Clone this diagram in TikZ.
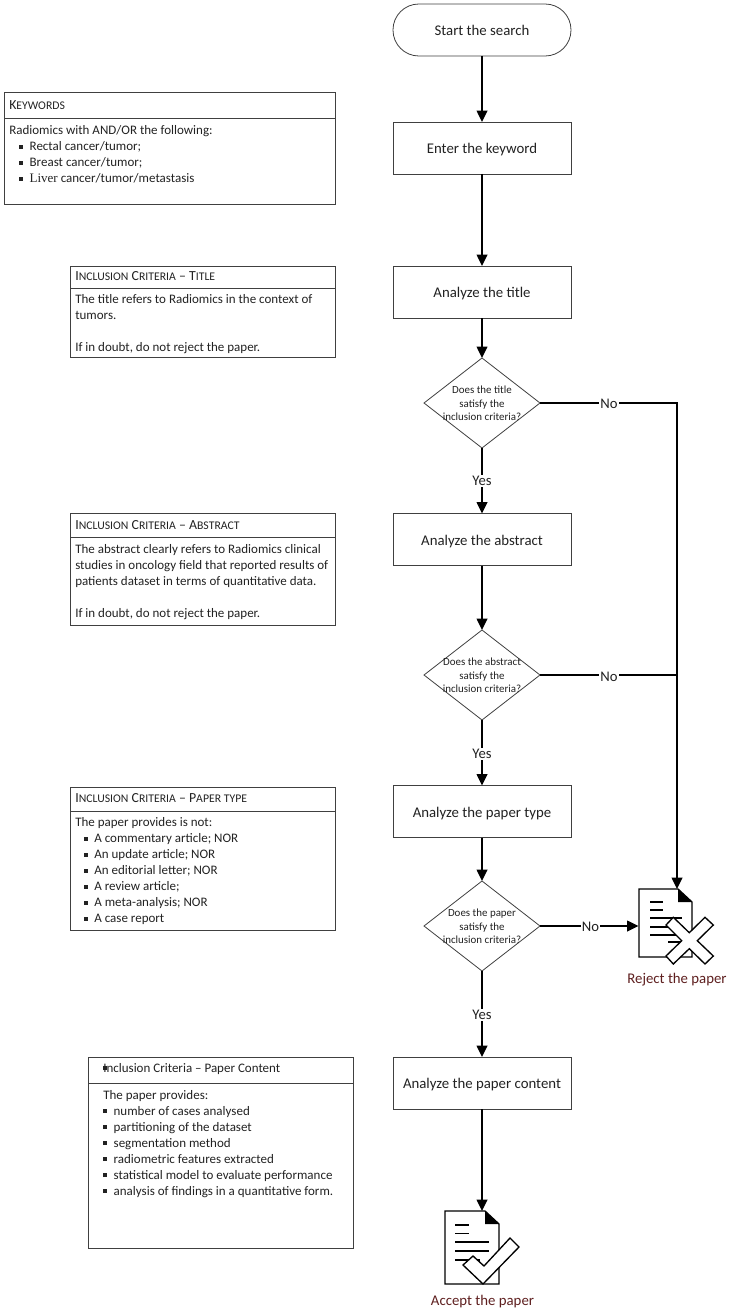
\documentclass[tikz,border=0pt]{standalone}
\usepackage{fontspec}
\setmainfont{Carlito}
\newfontfamily\serifpart{Liberation Serif}
\usetikzlibrary{shapes.geometric,arrows.meta}
\definecolor{boxline}{HTML}{404040}
\definecolor{boxtext}{HTML}{222222}
\definecolor{maroon}{HTML}{5E1F1F}
\newcommand{\bul}{\makebox[7.8pt][l]{\rule[1.6pt]{3pt}{3pt}}}
\newcommand{\smc}[1]{{\fontsize{8.8pt}{12pt}\selectfont #1}}
\tikzset{
  flowbox/.style={draw=boxline,line width=.6pt,fill=white,minimum width=133.5pt,minimum height=39pt,inner sep=0pt,outer sep=0pt,font=\fontsize{11.1pt}{12pt}\selectfont,text=boxtext,text height=8.4pt,text depth=0pt},
  startbox/.style={flowbox,rounded corners=19.4pt},
  decision/.style={diamond,draw=boxline,line width=.6pt,fill=white,minimum width=87pt,minimum height=67.5pt,inner sep=0pt,outer sep=0pt},
  dectext/.style={align=center,inner sep=0pt,font=\fontsize{8.2pt}{10pt}\selectfont,text=boxtext},
  infobox/.style={draw=boxline,line width=.6pt,inner sep=0pt,outer sep=0pt},
  infotext/.style={anchor=north west,align=left,inner sep=0pt,font=\fontsize{9.75pt}{12pt}\selectfont,text=boxtext},
  infohead/.style={infotext,font=\fontsize{10.4pt}{12pt}\selectfont},
  flow/.style={line width=1.1pt,-{Triangle[length=8.5pt,width=8pt]}},
  plain/.style={line width=1.1pt},
  choice/.style={fill=white,inner sep=1pt,font=\fontsize{11pt}{12pt}\selectfont,text=boxtext},
  icon/.style={draw=black,line width=1pt,fill=white,line join=miter},
  iconrule/.style={line width=1pt},
  outcome/.style={inner sep=0pt,font=\fontsize{11.1pt}{12pt}\selectfont,text=maroon},
  hole/.style={minimum width=40.5pt,minimum height=51pt,inner sep=0pt,outer sep=0pt}
}
\begin{document}
\begin{tikzpicture}[x=.75pt,y=-.75pt]
\useasboundingbox (0,0) rectangle (731,1316);
% flow nodes
\node[startbox] (start) at (482,30) {Start the search};
\node[flowbox] (keyword) at (482,148) {Enter the keyword};
\node[flowbox] (title) at (482,292) {Analyze the title};
\node[decision] (d1) at (482,403) {};
\node[flowbox] (abstract) at (482,539.5) {Analyze the abstract};
\node[decision] (d2) at (482,675) {};
\node[flowbox] (ptype) at (482,811.5) {Analyze the paper type};
\node[decision] (d3) at (482,926) {};
\node[flowbox] (content) at (482,1083) {Analyze the paper content};
\node[hole] (rejdoc) at (665.5,923) {};
\node[hole,minimum height=54.75pt] (accdoc) at (472,1247.5) {};
\coordinate (rejtop) at (677,889);
\coordinate (acctop) at (accdoc.north);
% connectors
\draw[flow] (start) -- (keyword);
\draw[flow] (keyword) -- (title);
\draw[flow] (title) -- (d1);
\draw[flow] (d1) -- (abstract);
\draw[flow] (abstract) -- (d2);
\draw[flow] (d2) -- (ptype);
\draw[flow] (ptype) -- (d3);
\draw[flow] (d3) -- (content);
\draw[flow] (content.south) -- (content.south |- acctop);
\draw[flow] (d1.east) -| (rejtop);
\draw[plain] (d2.east) -- (d2.east -| rejtop);
\draw[flow] (d3.east) -- (d3.east -| rejdoc.west);
% decision texts
\node[dectext] (d1t) at (482,403.5) {Does the title\\satisfy the\\inclusion criteria?};
\node[dectext] (d2t) at (482,675.5) {Does the abstract\\satisfy the\\inclusion criteria?};
\node[dectext] (d3t) at (482,926.5) {Does the paper\\satisfy the\\inclusion criteria?};
% edge labels
\node[choice] (no1) at (609,404) {No};
\node[choice] (no2) at (609,676.5) {No};
\node[choice] (no3) at (590.5,927) {No};
\node[choice] (yes1) at (482,481) {Yes};
\node[choice] (yes2) at (482,754) {Yes};
\node[choice] (yes3) at (482,1015) {Yes};
% info boxes
\node[infobox,minimum width=248.25pt,minimum height=83.6pt] (kw) at (170,148.2) {};
\draw[boxline,line width=.6pt] (kw.west |- 0,118) -- (kw.east |- 0,118);
\node[infohead] (kwh) at (9,100.5) {K\smc{EYWORDS}};
\node[infotext] (kwt) at (9,125.5) {Radiomics with AND/OR the following:\\
\hspace*{7.5pt}\bul Rectal cancer/tumor;\\
\hspace*{7.5pt}\bul Breast cancer/tumor;\\
\hspace*{7.5pt}\bul {\serifpart Liver} cancer/tumor/metastasis};
\node[infobox,minimum width=198.4pt,minimum height=68.25pt] (ti) at (202.8,311.5) {};
\draw[boxline,line width=.6pt] (ti.west |- 0,288) -- (ti.east |- 0,288);
\node[infohead] (tih) at (75,271.5) {I\smc{NCLUSION} C\smc{RITERIA} – T\smc{ITLE}};
\node[infotext] (tit) at (75,294) {The title refers to Radiomics in the context of\\tumors.\\[12pt]If in doubt, do not reject the paper.};
\node[infobox,minimum width=198.4pt,minimum height=84pt] (ab) at (202.8,569) {};
\draw[boxline,line width=.6pt] (ab.west |- 0,537) -- (ab.east |- 0,537);
\node[infohead] (abh) at (75,520.5) {I\smc{NCLUSION} C\smc{RITERIA} – A\smc{BSTRACT}};
\node[infotext] (abt) at (75,544) {The abstract clearly refers to Radiomics clinical\\studies in oncology field that reported results of\\patients dataset in terms of quantitative data.\\[12pt]If in doubt, do not reject the paper.};
\node[infobox,minimum width=198.75pt,minimum height=107.25pt] (pt) at (203,858.5) {};
\draw[boxline,line width=.6pt] (pt.west |- 0,811) -- (pt.east |- 0,811);
\node[infohead] (pth) at (75,793.5) {I\smc{NCLUSION} C\smc{RITERIA} – P\smc{APER TYPE}};
\node[infotext] (ptt) at (75,817.5) {The paper provides is not:\\
\hspace*{6.5pt}\bul A commentary article; NOR\\
\hspace*{6.5pt}\bul An update article; NOR\\
\hspace*{6.5pt}\bul An editorial letter; NOR\\
\hspace*{6.5pt}\bul A review article;\\
\hspace*{6.5pt}\bul A meta-analysis; NOR\\
\hspace*{6.5pt}\bul A case report};
\node[infobox,minimum width=198.75pt,minimum height=143.25pt] (pc) at (221.25,1152.5) {};
\draw[boxline,line width=.6pt] (pc.west |- 0,1083) -- (pc.east |- 0,1083);
\node[infotext] (pch) at (103,1063) {\rlap{\rule[1.5pt]{2.5pt}{3pt}}Inclusion Criteria – Paper Content};
\node[infotext] (pct) at (103,1090) {The paper provides:\\
\bul number of cases analysed\\
\bul partitioning of the dataset\\
\bul segmentation method\\
\bul radiometric features extracted\\
\bul statistical model to evaluate performance\\
\bul analysis of findings in a quantitative form.};
% reject icon
\draw[icon] (639,889) -- (678,889) -- (692,902) -- (692,957) -- (639,957) -- cycle;
\fill[black] (678,889) -- (692,902) -- (678,902) -- cycle;
\draw[iconrule] (650,902) -- (663,902);
\draw[iconrule] (650,910) -- (663,910);
\draw[iconrule] (650,918) -- (682,918);
\draw[iconrule] (650,927) -- (682,927);
\draw[iconrule] (650,935) -- (682,935);
\draw[iconrule] (668,942) -- (680,942);
\draw[icon] (666,925) -- (673.3,917.3) -- (689.3,932.7) -- (705,917.3) -- (713.3,925) -- (697.3,940.7) -- (713.3,956) -- (705,964) -- (689.3,948.7) -- (673.3,964) -- (666,956) -- (681.7,940.7) -- cycle;
\node[outcome] (rej) at (677,980) {Reject the paper};
% accept icon
\draw[icon] (445,1211) -- (485,1211) -- (499,1224) -- (499,1284) -- (445,1284) -- cycle;
\fill[black] (485,1211) -- (499,1224) -- (485,1224) -- cycle;
\draw[iconrule] (455,1225) -- (469,1225);
\draw[iconrule] (455,1233.5) -- (469,1233.5);
\draw[iconrule] (455,1242) -- (489,1242);
\draw[iconrule] (455,1251) -- (489,1251);
\draw[iconrule] (455,1260) -- (480,1260);
\draw[icon] (463,1265) -- (473,1256) -- (484,1266) -- (510,1238) -- (519,1247) -- (483,1284) -- cycle;
\node[outcome] (acc) at (482.5,1301.5) {Accept the paper};
\end{tikzpicture}
\end{document}
